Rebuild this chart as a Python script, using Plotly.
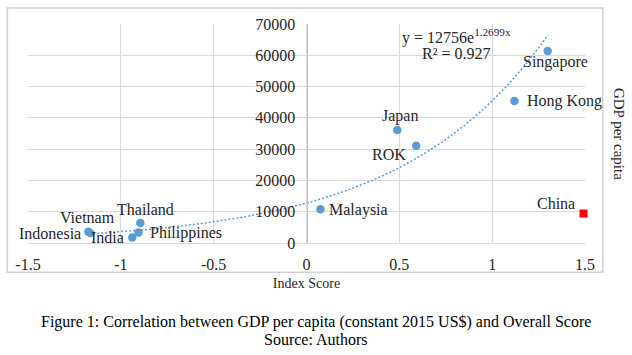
import numpy as np
import plotly.graph_objects as go

countries = ["Indonesia", "Vietnam", "India", "Philippines", "Thailand", "Malaysia",
             "Japan", "ROK", "Hong Kong", "Singapore"]
index_score = [-1.165, -1.175, -0.938, -0.905, -0.895, 0.075, 0.489, 0.591, 1.120, 1.299]
gdp_per_capita = [3200, 3600, 1730, 3330, 6410, 10800, 36100, 31100, 45400, 61400]

china_score = [1.492]
china_gdp = [9420]

trend_a = 12756
trend_b = 1.2699
trend_r2 = 0.927
trend_range = [-1.17, 1.30]

x_ticks = [-1.5, -1, -0.5, 0, 0.5, 1, 1.5]
x_tick_text = ["-1.5", "-1", "-0.5", "0", "0.5", "1", "1.5"]
y_ticks = [0, 10000, 20000, 30000, 40000, 50000, 60000, 70000]
y_tick_text = ["0", "10000", "20000", "30000", "40000", "50000", "60000", "70000"]

FONT = "Liberation Serif"
BLUE = "#5B9BD5"
GRID = "#d9d9d9"
TXT = "#262626"

# label placement (anchor, xshift px, yshift px) — style only
label_style = {
    "Indonesia":   ("right", -7, -1),
    "Vietnam":     ("center", -1, 14),
    "India":       ("right", -6, 0),
    "Philippines": ("left", 10, 0),
    "Thailand":    ("center", 5, 13),
    "Malaysia":    ("left", 7, -1),
    "Japan":       ("center", 3, 14),
    "ROK":         ("right", -8, -9),
    "Hong Kong":   ("left", 11, 0),
    "Singapore":   ("center", 8, -11),
    "China":       ("right", -7, 10),
}

tx = np.linspace(trend_range[0], trend_range[1], 200)
ty = trend_a * np.exp(trend_b * tx)

fig = go.Figure()
fig.add_trace(go.Scatter(x=tx, y=ty, mode="lines",
                         line=dict(color=BLUE, width=1.5, dash="2px,2px"),
                         hoverinfo="skip", showlegend=False))
fig.add_trace(go.Scatter(x=index_score, y=gdp_per_capita, mode="markers",
                         text=countries, cliponaxis=False,
                         marker=dict(color=BLUE, size=8.5),
                         showlegend=False))
fig.add_trace(go.Scatter(x=china_score, y=china_gdp, mode="markers",
                         text=["China"], cliponaxis=False,
                         marker=dict(color="#ff0000", size=8, symbol="square"),
                         showlegend=False))

annotations = []
for name, xv, yv in zip(countries + ["China"], index_score + china_score,
                        gdp_per_capita + china_gdp):
    anc, dx, dy = label_style[name]
    annotations.append(dict(text=name, xref="x", yref="y", x=xv, y=yv,
                            xanchor=anc, yanchor="middle", xshift=dx, yshift=dy,
                            showarrow=False,
                            font=dict(family=FONT, size=16, color=TXT)))

annotations += [
    dict(text="y = 12756e<sup>1.2699x</sup>", xref="x", yref="y",
         x=0.81, y=66100, showarrow=False,
         font=dict(family=FONT, size=16, color=TXT)),
    dict(text=f"R² = {trend_r2}", xref="x", yref="y",
         x=0.81, y=60600, showarrow=False,
         font=dict(family=FONT, size=16, color=TXT)),
    dict(text="GDP per capita", xref="paper", yref="paper",
         x=1.08, y=0.50, textangle=90, showarrow=False,
         font=dict(family=FONT, size=15, color=TXT)),
    dict(text="Figure 1: Correlation between GDP per capita (constant 2015 US$) and Overall Score",
         xref="paper", yref="paper", x=0.517, y=-0.412, showarrow=False,
         font=dict(family=FONT, size=16, color="black")),
    dict(text="Source: Authors",
         xref="paper", yref="paper", x=0.517, y=-0.49, showarrow=False,
         font=dict(family=FONT, size=16, color="black")),
]

fig.update_layout(
    width=632, height=355,
    margin=dict(l=28, r=47, t=24, b=112),
    paper_bgcolor="white", plot_bgcolor="white",
    font=dict(family=FONT, size=14, color=TXT),
    xaxis=dict(range=[-1.5, 1.5], tickvals=x_ticks, ticktext=x_tick_text,
               showgrid=True, gridcolor=GRID, gridwidth=1,
               zeroline=False, showline=True, linecolor=GRID, linewidth=1,
               ticks="", ticklabelstandoff=7,
               tickfont=dict(family=FONT, size=16, color=TXT),
               title=dict(text="Index Score", font=dict(family=FONT, size=14, color=TXT),
                          standoff=5)),
    yaxis=dict(range=[0, 70000], tickvals=y_ticks, ticktext=y_tick_text,
               showgrid=True, gridcolor=GRID, gridwidth=1,
               zeroline=False, showline=True, linecolor="#bfbfbf", linewidth=1,
               anchor="free", position=0.5, ticks="", ticklabelstandoff=8,
               tickfont=dict(family=FONT, size=16, color=TXT)),
    shapes=[dict(type="rect", xref="paper", yref="paper",
                 x0=-0.037, x1=1.032, y0=-0.134, y1=1.073,
                 line=dict(color="#d0d0d0", width=1.5), layer="above")],
    annotations=annotations,
)

fig.write_html("out.html", config={"displayModeBar": False},
               post_script="document.body.style.margin='0';")
